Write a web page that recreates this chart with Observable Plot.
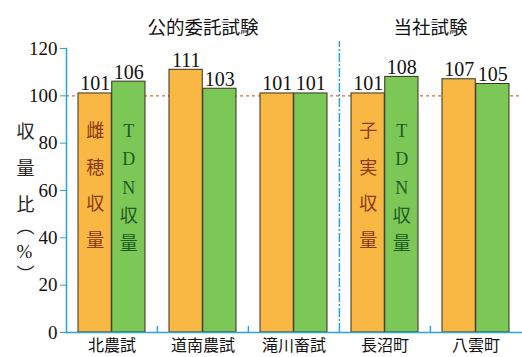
<!DOCTYPE html>
<html><head><meta charset="utf-8">
<script src="https://cdn.jsdelivr.net/npm/d3@7"></script>
<script src="https://cdn.jsdelivr.net/npm/@observablehq/plot@0.6"></script>
<style>
html,body{margin:0;padding:0;background:#fff;}
</style>
</head><body>
<div id="chart"></div>
<script>
const categories = ["北農試", "道南農試", "滝川畜試", "長沼町", "八雲町"];
const earYield = [101, 111, 101, 101, 107];   // 雌穂収量 / 子実収量
const tdnYield = [106, 103, 101, 108, 105];   // TDN収量
const groups = ["公的委託試験", "当社試験"];
const groupCenterCat = ["道南農試", "長沼町"];
const yTicks = [0, 20, 40, 60, 80, 100, 120];
const innerLabels = [
  {cat: "北農試", side: "left", text: "雌穂収量"},
  {cat: "北農試", side: "right", text: "TDN収量"},
  {cat: "長沼町", side: "left", text: "子実収量"},
  {cat: "長沼町", side: "right", text: "TDN収量"}
];

const W = 522, H = 357, ML = 66, MR = 0, MT = 48, MB = 25;
const pI = 0.26, pO = 0.13;
const step = (W - ML - MR) / (categories.length - pI + 2 * pO);
const bw = step * (1 - pI);
const half = bw / 2;

const orange = "#F8B843", green = "#7CC857", edge = "#3b2f22", blue = "#2BA3DB", red = "#E06A35";
const fam = '"Liberation Serif", "Noto Sans CJK JP", serif';

const orangeData = categories.map((c, i) => ({cat: c, v: earYield[i]}));
const greenData = categories.map((c, i) => ({cat: c, v: tdnYield[i]}));

const plot = Plot.plot({
  width: W, height: H,
  marginLeft: ML, marginRight: MR, marginTop: MT, marginBottom: MB,
  style: {fontFamily: fam, fontSize: "18px", background: "#fff", color: "#111"},
  x: {domain: categories, paddingInner: pI, paddingOuter: pO, label: null},
  y: {domain: [0, 120], label: null},
  marks: [
    Plot.ruleY([100], {stroke: red, strokeWidth: 1.3, strokeDasharray: "3,3"}),
    Plot.barY(orangeData, {x: "cat", y: "v", fill: orange, stroke: edge, strokeWidth: 1, insetRight: half}),
    Plot.barY(greenData, {x: "cat", y: "v", fill: green, stroke: edge, strokeWidth: 1, insetLeft: half}),
    Plot.text(orangeData, {x: "cat", y: "v", text: d => String(d.v), dx: -half / 2, dy: -3, lineAnchor: "bottom", fontSize: 20, fill: "#111"}),
    Plot.text(greenData, {x: "cat", y: "v", text: d => String(d.v), dx: half / 2, dy: -3, lineAnchor: "bottom", fontSize: 20, fill: "#111"}),
    Plot.text(innerLabels.filter(d => d.side === "left"), {x: "cat", frameAnchor: "top", dy: 62, dx: -half / 2, lineAnchor: "top",
      text: d => d.text.split("").join("\n"), lineHeight: 2.05, fontSize: 18, fill: "#8A3A14"}),
    Plot.text(innerLabels.filter(d => d.side === "right"), {x: "cat", frameAnchor: "top", dy: 68, dx: half / 2, lineAnchor: "top",
      text: d => d.text.split("").join("\n"), lineHeight: 1.58, fontSize: 18, fill: "#1F5A22"}),
    Plot.ruleX(["長沼町"], {x: d => d, dx: -step / 2, y1: 0, y2: 123, stroke: blue, strokeWidth: 1.5, strokeDasharray: "9,2,2,2"}),
    Plot.ruleX(["道南農試", "滝川畜試", "八雲町"], {x: d => d, dx: -step / 2, y1: 0, y2: 2.6, stroke: blue, strokeWidth: 1.5}),
    Plot.frame({anchor: "left", stroke: blue, strokeWidth: 1.5}),
    Plot.frame({anchor: "bottom", stroke: blue, strokeWidth: 1.5}),
    Plot.axisY({ticks: yTicks, tickSize: 6, tickPadding: 3, stroke: blue, fill: "#111", fontSize: 19, label: null}),
    Plot.axisX({tickSize: 0, tickPadding: 7, fontSize: 16, fill: "#111", label: null}),
    Plot.text(groups.slice(0, 1), {x: () => groupCenterCat[0], frameAnchor: "top", dy: -28, fontSize: 18.5, fill: "#111"}),
    Plot.text(groups.slice(1), {x: () => groupCenterCat[1], frameAnchor: "top", dx: step / 2, dy: -28, fontSize: 18.5, fill: "#111"}),
    Plot.text(["収\n量\n比"], {frameAnchor: "top-left", dx: -50, dy: 63, lineAnchor: "top", lineHeight: 2.05, fontSize: 18, fill: "#222"}),
    Plot.text(["︵"], {frameAnchor: "top-left", dx: -50, dy: 172, fontSize: 18, fill: "#222"}),
    Plot.text(["%"], {frameAnchor: "top-left", dx: -50, dy: 196, fontSize: 19, fill: "#222"}),
    Plot.text(["︶"], {frameAnchor: "top-left", dx: -50, dy: 220, fontSize: 18, fill: "#222"})
  ]
});
document.getElementById("chart").appendChild(plot);
</script>
</body></html>
